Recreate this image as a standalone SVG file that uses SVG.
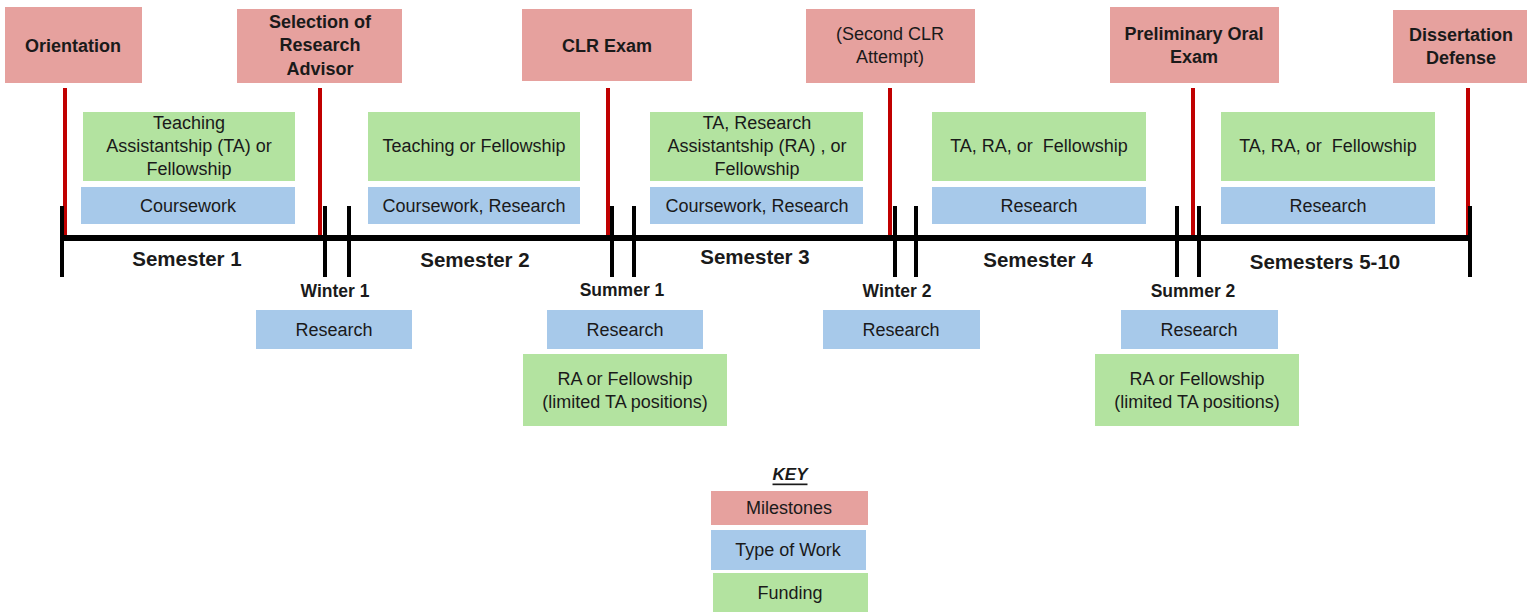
<svg xmlns="http://www.w3.org/2000/svg" width="1527" height="614" viewBox="0 0 1527 614">
<style>
.ms{fill:#E6A19E}
.wk{fill:#A7C9EA}
.fd{fill:#B3E3A0}
text{font-family:"Liberation Sans",Arial,sans-serif;fill:#1a1a1a;text-anchor:middle;dominant-baseline:central}
.t{font-size:18px}
.b{font-size:18px;font-weight:bold}
.sem{font-size:20.5px;font-weight:bold}
.brk{font-size:17.5px;font-weight:bold}
.stem{stroke:#C00000;stroke-width:4}
.tick{stroke:#000;stroke-width:4}
</style>
<rect width="1527" height="614" fill="#fff"/>
<g id="connectors">
<line class="stem" x1="65" y1="88" x2="65" y2="236"/>
<line class="stem" x1="320" y1="88" x2="320" y2="236"/>
<line class="stem" x1="608" y1="88" x2="608" y2="236"/>
<line class="stem" x1="890" y1="88" x2="890" y2="236"/>
<line class="stem" x1="1193" y1="88" x2="1193" y2="236"/>
<line class="stem" x1="1468" y1="88" x2="1468" y2="236"/>
<line x1="62" y1="238" x2="1471" y2="238" stroke="#000" stroke-width="6"/>
<line class="tick" x1="62" y1="206" x2="62" y2="277"/>
<line class="tick" x1="325" y1="206" x2="325" y2="277"/>
<line class="tick" x1="349" y1="206" x2="349" y2="277"/>
<line class="tick" x1="612" y1="206" x2="612" y2="277"/>
<line class="tick" x1="634" y1="206" x2="634" y2="277"/>
<line class="tick" x1="895" y1="206" x2="895" y2="277"/>
<line class="tick" x1="916" y1="206" x2="916" y2="277"/>
<line class="tick" x1="1177" y1="206" x2="1177" y2="277"/>
<line class="tick" x1="1199" y1="206" x2="1199" y2="277"/>
<line class="tick" x1="1470" y1="206" x2="1470" y2="277"/>
</g>
<g id="ms-orientation"><rect class="ms" x="5" y="7" width="137" height="76"/><text class="b" x="73" y="46">Orientation</text></g>
<g id="ms-advisor"><rect class="ms" x="237" y="9" width="165" height="74"/><text class="b" x="320" y="22">Selection of</text><text class="b" x="320" y="45">Research</text><text class="b" x="320" y="69">Advisor</text></g>
<g id="ms-clr"><rect class="ms" x="522" y="9" width="170" height="72"/><text class="b" x="607" y="46">CLR Exam</text></g>
<g id="ms-clr2"><rect class="ms" x="806" y="9" width="169" height="74"/><text class="t" x="890" y="34">(Second CLR</text><text class="t" x="890" y="57">Attempt)</text></g>
<g id="ms-prelim"><rect class="ms" x="1110" y="7" width="169" height="76"/><text class="b" x="1194" y="34">Preliminary Oral</text><text class="b" x="1194" y="57">Exam</text></g>
<g id="ms-defense"><rect class="ms" x="1393" y="10" width="134" height="73"/><text class="b" x="1461" y="35">Dissertation</text><text class="b" x="1461" y="58">Defense</text></g>
<g id="fd-s1"><rect class="fd" x="83" y="112" width="212" height="69"/><text class="t" x="189" y="123">Teaching</text><text class="t" x="189" y="146">Assistantship (TA) or</text><text class="t" x="189" y="169">Fellowship</text></g>
<g id="fd-s2"><rect class="fd" x="368" y="112" width="212" height="69"/><text class="t" x="474" y="146">Teaching or Fellowship</text></g>
<g id="fd-s3"><rect class="fd" x="650" y="112" width="213" height="69"/><text class="t" x="757" y="123">TA, Research</text><text class="t" x="757" y="146">Assistantship (RA) , or</text><text class="t" x="757" y="169">Fellowship</text></g>
<g id="fd-s4"><rect class="fd" x="932" y="112" width="214" height="69"/><text class="t" x="1039" y="146" xml:space="preserve">TA, RA, or  Fellowship</text></g>
<g id="fd-s5"><rect class="fd" x="1221" y="112" width="214" height="69"/><text class="t" x="1328" y="146" xml:space="preserve">TA, RA, or  Fellowship</text></g>
<g id="wk-s1"><rect class="wk" x="81" y="187" width="214" height="37"/><text class="t" x="188" y="206">Coursework</text></g>
<g id="wk-s2"><rect class="wk" x="368" y="187" width="212" height="37"/><text class="t" x="474" y="206">Coursework, Research</text></g>
<g id="wk-s3"><rect class="wk" x="650" y="187" width="213" height="37"/><text class="t" x="757" y="206">Coursework, Research</text></g>
<g id="wk-s4"><rect class="wk" x="932" y="187" width="214" height="37"/><text class="t" x="1039" y="206">Research</text></g>
<g id="wk-s5"><rect class="wk" x="1221" y="187" width="214" height="37"/><text class="t" x="1328" y="206">Research</text></g>
<g id="labels">
<text class="sem" x="187" y="258">Semester 1</text>
<text class="sem" x="475" y="259">Semester 2</text>
<text class="sem" x="755" y="256">Semester 3</text>
<text class="sem" x="1038" y="259">Semester 4</text>
<text class="sem" x="1325" y="261">Semesters 5-10</text>
<text class="brk" x="335" y="291">Winter 1</text>
<text class="brk" x="622" y="290">Summer 1</text>
<text class="brk" x="897" y="291">Winter 2</text>
<text class="brk" x="1193" y="291">Summer 2</text>
</g>
<g id="wk-w1"><rect class="wk" x="256" y="310" width="156" height="39"/><text class="t" x="334" y="330">Research</text></g>
<g id="wk-su1"><rect class="wk" x="547" y="310" width="156" height="39"/><text class="t" x="625" y="330">Research</text></g>
<g id="wk-w2"><rect class="wk" x="823" y="310" width="157" height="39"/><text class="t" x="901" y="330">Research</text></g>
<g id="wk-su2"><rect class="wk" x="1121" y="310" width="157" height="39"/><text class="t" x="1199" y="330">Research</text></g>
<g id="fd-su1"><rect class="fd" x="523" y="354" width="204" height="72"/><text class="t" x="625" y="379">RA or Fellowship</text><text class="t" x="625" y="402">(limited TA positions)</text></g>
<g id="fd-su2"><rect class="fd" x="1095" y="354" width="204" height="72"/><text class="t" x="1197" y="379">RA or Fellowship</text><text class="t" x="1197" y="402">(limited TA positions)</text></g>
<g id="key">
<text x="790" y="474" style="font-size:17px;font-weight:bold;font-style:italic;text-decoration:underline">KEY</text>
<rect class="ms" x="711" y="491" width="157" height="34"/><text class="t" x="789" y="508">Milestones</text>
<rect class="wk" x="711" y="530" width="155" height="40"/><text class="t" x="788" y="550">Type of Work</text>
<rect class="fd" x="713" y="573" width="155" height="39"/><text class="t" x="790" y="593">Funding</text>
</g>
</svg>
